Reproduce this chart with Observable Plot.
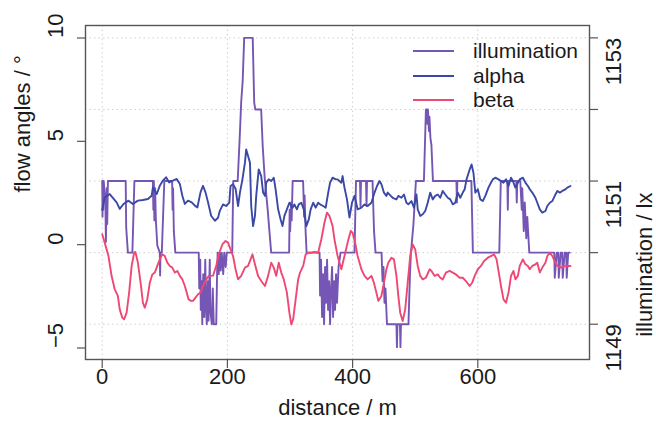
<!DOCTYPE html>
<html><head><meta charset="utf-8">
<script src="https://cdn.jsdelivr.net/npm/d3@7"></script>
<script src="https://cdn.jsdelivr.net/npm/@observablehq/plot@0.6"></script>
<style>
body{margin:0;background:#fff;font-family:"Liberation Sans",Arial,sans-serif;}
#wrap{position:relative;width:656px;height:426px;overflow:hidden;}
#legend{position:absolute;left:413px;top:39px;}
#legend .row{display:flex;align-items:center;height:24.6px;font-size:21px;color:#1a1a1a;}
#legend .sw{width:41px;height:0;border-top:2px solid;margin-right:19px;}
</style></head><body><div id="wrap"></div>
<script>
// ---- data ----
const alphaDist = [0,4,12,23,28,34,42,49,57,65,73,79,81,87,92,97,102,107,113,119,124,128,132,137,143,148,152,157,161,165,169,174,180,185,188,193,198,203,205,209,213,217,220,224,228,230,233,236,238,241,244,246,250,254,257,260,262,266,270,274,277,281,285,288,291,295,299,304,307,311,314,318,322,326,330,333,337,341,345,348,353,357,361,364,368,373,376,382,384,387,391,395,399,403,408,414,419,424,430,435,439,443,446,450,454,456,461,464,470,473,478,482,486,489,494,498,502,504,508,512,516,520,524,528,532,536,540,544,548,552,556,560,564,568,572,576,579,582,587,590,593,596,600,604,608,612,617,621,624,628,633,637,641,645,649,653,656,660,664,667,672,676,680,683,687,692,695,699,703,708,711,715,719,724,727,731,735,740,743,748];
const alphaVal = [1.68,2.29,2.45,2.05,1.73,1.97,2.13,1.97,2.13,2.16,2.21,2.37,2.77,2.45,2.85,3.10,3.26,3.01,3.10,3.18,2.94,2.37,1.97,2.13,2.05,1.89,1.80,2.53,2.85,2.53,2.05,1.40,1.16,1.30,1.65,1.95,1.87,2.03,2.84,2.92,2.71,1.87,2.52,3.16,3.97,4.61,4.29,3.97,1.87,0.90,1.39,2.36,3.64,3.32,2.52,2.36,3.00,3.16,3.08,3.24,2.68,1.71,1.22,0.90,1.39,1.71,2.03,1.79,1.95,1.71,1.95,2.03,1.71,0.90,1.22,1.71,2.03,1.79,2.03,1.95,1.87,1.79,2.52,3.00,3.24,3.16,3.16,3.00,3.32,2.76,2.19,1.31,2.03,2.36,1.71,1.79,1.95,1.87,2.03,2.52,2.84,3.08,2.92,2.52,2.36,2.52,2.36,2.27,2.19,2.36,2.27,2.43,2.03,1.95,2.11,1.79,2.43,1.71,1.39,1.47,1.63,2.03,2.52,2.19,2.36,2.43,2.27,2.60,2.43,2.27,2.19,1.95,2.03,2.52,2.27,2.52,2.68,3.16,3.64,3.88,3.48,2.52,2.68,2.19,2.11,2.36,2.76,3.00,3.16,3.24,3.16,3.08,3.00,3.16,2.84,3.24,3.08,2.76,3.00,3.16,3.24,3.00,2.84,2.68,2.52,2.27,2.03,1.71,1.55,1.63,1.87,2.03,2.11,2.43,2.60,2.52,2.60,2.68,2.76,2.84];

const betaDist = [0,4,10,15,20,25,28,32,35,39,43,47,51,53,57,62,65,68,72,76,80,84,88,92,96,100,104,108,112,116,120,124,128,132,135,138,142,145,149,153,157,161,165,170,177,182,187,192,197,201,205,209,213,217,222,228,233,237,240,244,249,254,260,265,270,274,278,282,286,290,295,299,302,305,309,313,316,321,325,329,334,339,345,350,355,359,363,368,371,376,382,387,392,397,400,404,408,414,419,424,430,434,438,441,446,450,454,457,462,466,470,473,476,480,484,488,492,496,500,504,508,512,517,523,526,531,536,540,544,549,555,560,565,571,576,581,587,591,595,600,605,610,616,621,626,630,633,637,641,645,649,653,657,660,664,667,672,676,680,683,687,692,695,699,703,708,711,715,719,724,727,733,738,743,748];
const betaVal = [0.50,0.10,-0.55,-1.52,-2.16,-2.48,-3.13,-3.53,-3.61,-3.29,-2.32,-1.03,-0.39,-0.35,-0.87,-2.00,-2.81,-3.05,-2.65,-1.84,-1.44,-1.35,-1.03,-0.71,-0.47,-0.55,-0.87,-1.03,-1.11,-1.35,-1.27,-1.51,-1.68,-2.00,-2.32,-2.65,-2.72,-2.72,-2.56,-2.40,-2.32,-2.00,-1.76,-1.51,-1.50,-1.03,-0.39,0.01,0.18,0.10,-0.23,-0.55,-1.19,-1.68,-1.51,-1.11,-1.03,-0.71,-0.47,-0.95,-1.51,-1.76,-2.00,-1.51,-0.87,-1.11,-1.51,-0.87,-1.35,-1.68,-2.32,-3.29,-3.86,-3.61,-2.65,-1.68,-1.35,-1.03,-0.47,-0.39,-0.39,-0.35,-0.39,0.26,1.06,1.55,1.39,0.90,0.26,-0.55,-1.19,-0.55,0.10,0.66,0.58,0.10,-0.55,-1.19,-1.51,-1.68,-1.51,-1.84,-2.32,-2.72,-2.48,-1.84,-1.19,-0.87,-0.63,-0.71,-1.51,-2.48,-3.29,-3.69,-3.13,-1.84,-0.55,0.01,-0.23,-1.03,-1.51,-1.68,-1.60,-1.19,-1.27,-1.51,-1.44,-1.60,-1.68,-1.35,-1.27,-1.35,-1.44,-1.60,-1.60,-1.76,-2.00,-1.84,-1.51,-1.19,-1.03,-0.79,-0.63,-0.55,-0.47,-0.71,-1.27,-2.00,-2.65,-2.81,-2.32,-1.51,-1.27,-1.68,-1.51,-1.03,-0.71,-0.95,-1.03,-1.19,-1.03,-0.95,-0.87,-1.35,-1.11,-0.87,-0.55,-0.39,-0.55,-0.87,-1.03,-1.11,-1.03,-1.03,-1.03];

const illumDist = [0,0.5,0.8,1.6,2.4,5.1,5.9,7.2,8.0,9.1,37.5,38.3,41,48.2,51.4,80.9,81.7,82.5,83.3,84.5,85.7,88,92,92.5,93.1,95.2,99.2,111.7,112.4,113.2,114.4,116.8,154.2,155,156.6,157.4,159,159.8,161.4,163,164.6,165.7,167,168.6,169.9,171.8,172.7,175,176.6,178.2,179.8,182.1,183.7,184.5,186.1,187.7,189.3,190.9,193.3,194.9,197.3,198.9,207.7,209.3,216.4,219.6,222,224.4,226.8,240.4,242.8,244.4,253.9,256.3,259.5,264.3,269.9,298.6,299.4,300.2,301.8,302.6,304.2,320.9,322.5,323.3,324.9,326.5,347.2,348,349.6,351.2,352.8,354.4,356,357.6,359.2,360.8,362.4,364,365.6,367.2,368.8,370.4,371.9,373.5,375.1,377.5,380.7,403,405.4,411.8,412.6,413.4,421.4,422.2,423,431.8,434.2,436.6,446.2,447.8,449.3,450.9,452.5,454.9,470,470.8,471.6,475.6,476.4,477.2,489.2,491.6,493.2,497.2,501.1,513.9,517.1,518.7,519.5,520.3,521.9,522.7,524.3,525.9,528.3,565.8,566.6,567.3,589.7,592.1,634.3,636.7,647.1,647.9,648.7,661.4,662.2,663,667.8,670.2,671,673.4,675,677.4,679,682.2,718.9,722.1,722.9,726.1,728.5,729.3,732.4,734.8,735.6,738.8,741.2,742,744.4,746.8];
const illumVal = [1151,1150.5,1151,1150.6,1151,1150.7,1150.15,1150.9,1150.4,1151,1151,1150.35,1150,1150,1151,1151,1150.6,1151,1150.45,1150.9,1150.45,1150.1,1150,1149.68,1150,1150,1151,1151,1150.6,1150.9,1150.3,1150,1150,1149.5,1149.9,1149.2,1149.6,1149,1149.7,1149.1,1149.9,1149.3,1149,1149.6,1149.05,1149.9,1149.2,1149,1149.5,1149,1149,1149,1149.8,1150,1149.7,1150,1149.75,1150,1149.7,1150,1149.8,1150,1150,1151,1151,1151.6,1152.1,1152.4,1153,1153,1152.1,1152,1152,1151.5,1151.05,1150.6,1150,1150,1150.6,1150.3,1150.7,1150.45,1151,1151,1150.5,1150.8,1150.3,1150,1150,1149.4,1149.9,1149.1,1149.7,1149,1149.8,1149.3,1149.9,1149.2,1149.6,1149,1149.5,1149.8,1149.1,1149.6,1149.2,1149.7,1149.3,1149.8,1150,1150,1151,1151,1150.65,1151,1151,1150.65,1151,1151,1150.3,1150,1150,1149.6,1149.8,1149.3,1149.5,1149,1149,1148.68,1149,1149,1148.68,1149,1149,1149.7,1150,1150.4,1151,1151,1152,1152,1151.8,1152,1151.7,1151.9,1151.6,1151.5,1151,1151,1150.7,1151,1151,1150,1150,1151,1151,1150.6,1151,1151,1150.7,1151,1151,1150.6,1150.9,1150.3,1150.7,1150.2,1150.5,1150,1150,1150,1149.65,1150,1150,1149.65,1150,1150,1149.65,1150,1150,1149.65,1150,1150];

const xTicks = [0, 200, 400, 600];
const angleTicks = [-5, 0, 5, 10];
const lxTicks = [1149, 1150, 1151, 1152, 1153];
const lxLabels = [1149, 1151, 1153];
const seriesNames = ["illumination", "alpha", "beta"];
const seriesColors = ["#7656b4", "#3a48a6", "#ef4874"];

// ---- build ----
const angleDomain = [-5.556, 10.605];
const lxDomain = [1148.507, 1153.173];
const lxToAngle = d3.scaleLinear().domain(lxDomain).range(angleDomain);

const illum = illumDist.map((d, i) => ({d, v: lxToAngle(illumVal[i])}));
const alpha = alphaDist.map((d, i) => ({d, v: alphaVal[i]}));
const beta = betaDist.map((d, i) => ({d, v: betaVal[i]}));

const ink = "#1a1a1a", axisGray = "#555";
const lineOpts = (c) => ({x: "d", y: "v", stroke: c, strokeWidth: 1.9, strokeLinejoin: "round"});
const fmtMinus = (d) => String(d).replace("-", "\u2212");

const chart = Plot.plot({
  width: 656, height: 426,
  marginLeft: 85, marginRight: 67, marginTop: 25, marginBottom: 67,
  x: {domain: [-26.7, 778.4]},
  y: {domain: angleDomain},
  style: {fontFamily: "'Liberation Sans', Arial, sans-serif", background: "white", color: ink},
  marks: [
    Plot.ruleX(xTicks, {x: d => d, stroke: "#cfcfcf", strokeDasharray: "1.5,3"}),
    Plot.ruleY(lxTicks, {y: d => lxToAngle(d), stroke: "#cfcfcf", strokeDasharray: "1.5,3"}),
    Plot.line(illum, lineOpts(seriesColors[0])),
    Plot.line(alpha, lineOpts(seriesColors[1])),
    Plot.line(beta, lineOpts(seriesColors[2])),
    Plot.frame({stroke: axisGray, strokeWidth: 1.4}),
    Plot.axisX(xTicks, {anchor: "bottom", tickSize: 9, tickFormat: () => "", stroke: axisGray, strokeWidth: 1.2, label: null}),
    Plot.axisY(angleTicks, {anchor: "left", tickSize: 8, tickFormat: () => "", stroke: axisGray, strokeWidth: 1.2, label: null}),
    Plot.axisY(lxTicks.map(d => lxToAngle(d)), {anchor: "right", tickSize: 8, tickFormat: () => "", stroke: axisGray, strokeWidth: 1.2, label: null}),
    Plot.text(xTicks, {x: d => d, frameAnchor: "bottom", dy: 24, text: d => String(d), fontSize: 22, fill: ink}),
    Plot.text(angleTicks, {y: d => d, frameAnchor: "left", dx: -30, rotate: -90, text: fmtMinus, fontSize: 22, fill: ink}),
    Plot.text(lxLabels, {y: d => lxToAngle(d), frameAnchor: "right", dx: 24.5, rotate: -90, text: d => String(d), fontSize: 22, fill: ink}),
    Plot.text(["flow angles / °"], {frameAnchor: "left", dx: -63, rotate: -90, text: d => d, fontSize: 22, fill: ink}),
    Plot.text(["illumination / lx"], {frameAnchor: "right", dx: 55, rotate: -90, text: d => d, fontSize: 22, fill: ink}),
    Plot.text(["distance / m"], {frameAnchor: "bottom", dy: 55, text: d => d, fontSize: 22, fill: ink})
  ]
});
const wrap = document.getElementById("wrap");
wrap.appendChild(chart);

// legend (inside plot, top right, no box)
const legend = document.createElement("div");
legend.id = "legend";
seriesNames.forEach((name, i) => {
  const row = document.createElement("div");
  row.className = "row";
  const sw = document.createElement("span");
  sw.className = "sw";
  sw.style.borderTopColor = seriesColors[i];
  const tx = document.createElement("span");
  tx.textContent = name;
  row.appendChild(sw); row.appendChild(tx);
  legend.appendChild(row);
});
wrap.appendChild(legend);
</script></body></html>
